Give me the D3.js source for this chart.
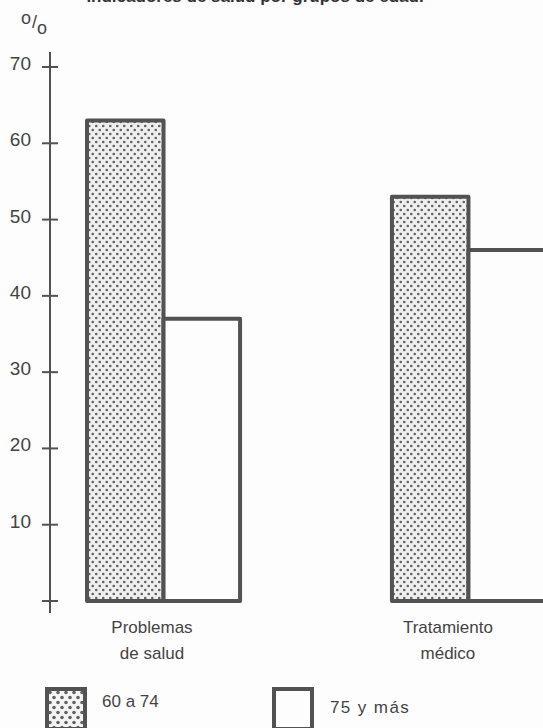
<!DOCTYPE html>
<html>
<head>
<meta charset="utf-8">
<script src="https://cdn.jsdelivr.net/npm/d3@7"></script>
<style>
  body { margin: 0; background: #fdfdfd; }
  text { font-family: "Liberation Sans", Arial, sans-serif; fill: #444; }
</style>
</head>
<body>
<svg id="chart" width="543" height="728"></svg>
<script>
// datos
var categories = ["Problemas de salud", "Tratamiento médico"];
var catLines = [["Problemas", "de salud"], ["Tratamiento", "médico"]];
var groups = ["60 a 74", "75 y más"];
var values60 = [63, 53];
var values75 = [37, 46];
var yTicks = [10, 20, 30, 40, 50, 60, 70];

var svg = d3.select("#chart");
var ink = "#525252";

// trama de puntos
var defs = svg.append("defs");
function dotPattern(id, w, h, r, bg) {
  var p = defs.append("pattern")
      .attr("id", id)
      .attr("patternUnits", "userSpaceOnUse")
      .attr("width", w).attr("height", h);
  p.append("rect").attr("width", w).attr("height", h).attr("fill", bg);
  p.append("circle").attr("cx", w / 4).attr("cy", h / 4).attr("r", r).attr("fill", "#626262");
  p.append("circle").attr("cx", 3 * w / 4).attr("cy", 3 * h / 4).attr("r", r).attr("fill", "#626262");
}
dotPattern("dots", 7, 8, 1.3, "#efefef");
dotPattern("dotsBig", 8, 10, 1.8, "#f4f4f4");

// titulo cortado arriba
svg.append("text")
    .attr("x", 255).attr("y", 2)
    .attr("text-anchor", "middle")
    .style("font-weight", "bold")
    .style("font-size", "17px")
    .style("fill", "#333")
    .text("Indicadores de salud por grupos de edad.");

var y = d3.scaleLinear().domain([0, 70]).range([601, 67]);
var x0 = d3.scaleBand().domain(categories).range([87, 545]).paddingInner(0.498);
var x1 = d3.scaleBand().domain(groups).range([0, x0.bandwidth()]);

// eje
var axisX = 50;
svg.append("line")
    .attr("x1", axisX).attr("x2", axisX)
    .attr("y1", 52).attr("y2", 613)
    .attr("stroke", ink).attr("stroke-width", 2);

var ticks = [0].concat(yTicks);
svg.selectAll(".tick").data(ticks).enter().append("line")
    .attr("x1", axisX - 8).attr("x2", axisX + 8)
    .attr("y1", d => y(d)).attr("y2", d => y(d))
    .attr("stroke", ink).attr("stroke-width", 2);

svg.selectAll(".tlab").data(yTicks).enter().append("text")
    .attr("x", 31).attr("y", d => y(d) + 3)
    .attr("text-anchor", "end")
    .style("font-size", "19px")
    .text(d => d);

// o/o
var pct = svg.append("text").attr("x", 21).attr("y", 24).style("font-size", "18px");
pct.append("tspan").text("o");
pct.append("tspan").attr("dx", 1).attr("dy", 4).text("/");
pct.append("tspan").attr("dx", 0).attr("dy", 6).text("o");

// barras
var rows = [];
categories.forEach(function(c, i) {
  rows.push({cat: c, grp: groups[0], v: values60[i]});
  rows.push({cat: c, grp: groups[1], v: values75[i]});
});

svg.append("g").selectAll("rect").data(rows).enter().append("rect")
    .attr("x", d => x0(d.cat) + x1(d.grp))
    .attr("y", d => y(d.v))
    .attr("width", x1.bandwidth())
    .attr("height", d => y(0) - y(d.v))
    .attr("fill", d => d.grp === groups[0] ? "url(#dots)" : "#fdfdfd")
    .attr("stroke", ink)
    .attr("stroke-width", 4)
    .attr("stroke-linejoin", "round");

// etiquetas de categoria
categories.forEach(function(c, i) {
  var t = svg.append("text")
      .attr("text-anchor", "middle")
      .style("font-size", "17px");
  catLines[i].forEach(function(l, j) {
    t.append("tspan").attr("x", x0(c) + (i === 0 ? 65 : 56)).attr("y", 633 + j * 26).text(l);
  });
});

// leyenda
var legend = [
  {label: groups[0], x: 45, tx: 102, ty: 707, fill: "url(#dotsBig)", ls: 0},
  {label: groups[1], x: 272, tx: 330, ty: 713, fill: "#fdfdfd", ls: 1.4}
];
svg.selectAll(".lg").data(legend).enter().append("rect")
    .attr("x", d => d.x + 2).attr("y", 689)
    .attr("width", 38).attr("height", 40)
    .attr("fill", d => d.fill)
    .attr("stroke", ink).attr("stroke-width", 4);
svg.selectAll(".lt").data(legend).enter().append("text")
    .attr("x", d => d.tx).attr("y", d => d.ty)
    .style("font-size", "17px")
    .style("letter-spacing", d => d.ls + "px")
    .text(d => d.label);
</script>
</body>
</html>
